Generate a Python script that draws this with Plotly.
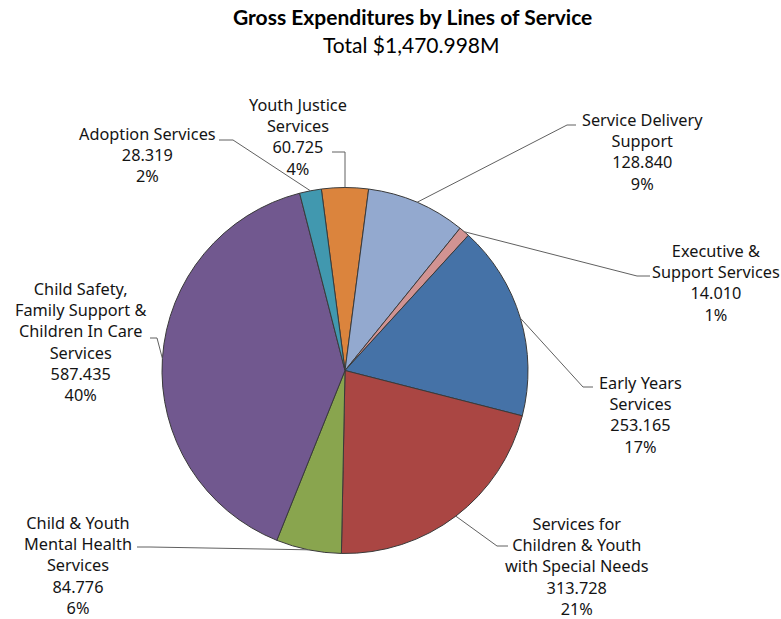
import math
import plotly.graph_objects as go

# Gross expenditures by line of service ($M), in drawing order (clockwise from top)
services = [
    "Youth Justice<br>Services",
    "Service Delivery<br>Support",
    "Executive &<br>Support Services",
    "Early Years<br>Services",
    "Services for<br>Children & Youth<br>with Special Needs",
    "Child & Youth<br>Mental Health<br>Services",
    "Child Safety,<br>Family Support &<br>Children In Care<br>Services",
    "Adoption Services",
]
amounts = [60.725, 128.840, 14.010, 253.165, 313.728, 84.776, 587.435, 28.319]
colors = ["#DB843D", "#93A9CF", "#D19392", "#4572A7",
          "#AA4643", "#89A54E", "#71588F", "#4198AF"]

W, H = 781, 619
CX, CY, R = 345, 370.5, 183   # pie centre and radius in pixels

# label block centres and leader-line elbows (pixels)
label_pos = [(298, 137), (642, 151.5), (716, 282.5), (640, 414.5),
             (577, 566), (78, 565.5), (80, 341.5), (147, 155)]
leader_pts = [
    [(332, 152), (345, 152)],
    [(576, 125), (567, 125)],
    [(650, 276), (637, 276)],
    [(593, 387), (583, 387)],
    [(508, 546), (497, 546)],
    [(137, 547), (150, 547)],
    [(150, 338), (157, 338)],
    [(219, 140), (233, 140)],
]

total = sum(amounts)
rotation = -amounts[0] / total * 360 / 2   # first slice centred on 12 o'clock


def px(x):
    return x / W


def py(y):
    return 1 - y / H


fig = go.Figure()
fig.add_trace(go.Pie(
    values=amounts,
    labels=[s.replace("<br>", " ") for s in services],
    sort=False,
    direction="clockwise",
    rotation=rotation,
    marker=dict(colors=colors, line=dict(color="#3a3a3a", width=1)),
    textinfo="none",
    showlegend=False,
    domain=dict(x=[px(CX - R), px(CX + R)], y=[py(CY + R), py(CY - R)]),
))

label_font = dict(family="Noto Sans", size=16.3, color="#141414")
shapes = []
annotations = []
cum = 0.0
for name, amt, (lx, ly), pts in zip(services, amounts, label_pos, leader_pts):
    mid = rotation + (cum + amt / 2) / total * 360
    cum += amt
    a = math.radians(mid)
    ex, ey = CX + R * math.sin(a), CY - R * math.cos(a)
    path = pts + [(ex, ey)]
    for (x0, y0), (x1, y1) in zip(path[:-1], path[1:]):
        shapes.append(dict(type="line", xref="paper", yref="paper",
                           x0=px(x0), y0=py(y0), x1=px(x1), y1=py(y1),
                           line=dict(color="#606060", width=1)))
    pct = round(amt / total * 100)
    annotations.append(dict(
        text=f"{name}<br>{amt:.3f}<br>{pct}%",
        x=px(lx), y=py(ly), xref="paper", yref="paper",
        xanchor="center", yanchor="middle", align="center",
        showarrow=False, font=label_font,
    ))

annotations.append(dict(text="<b>Gross Expenditures by Lines of Service</b>",
                        x=px(412), y=py(17), xref="paper", yref="paper",
                        xanchor="center", yanchor="middle", showarrow=False,
                        font=dict(family="Lato", size=21, color="#000000")))
annotations.append(dict(text=f"Total ${total:,.3f}M",
                        x=px(411), y=py(44), xref="paper", yref="paper",
                        xanchor="center", yanchor="middle", showarrow=False,
                        font=dict(family="Lato", size=21, color="#000000")))

fig.update_layout(
    width=W, height=H,
    margin=dict(l=0, r=0, t=0, b=0),
    paper_bgcolor="white", plot_bgcolor="white",
    shapes=shapes, annotations=annotations,
)

fig.write_html("out.html")
